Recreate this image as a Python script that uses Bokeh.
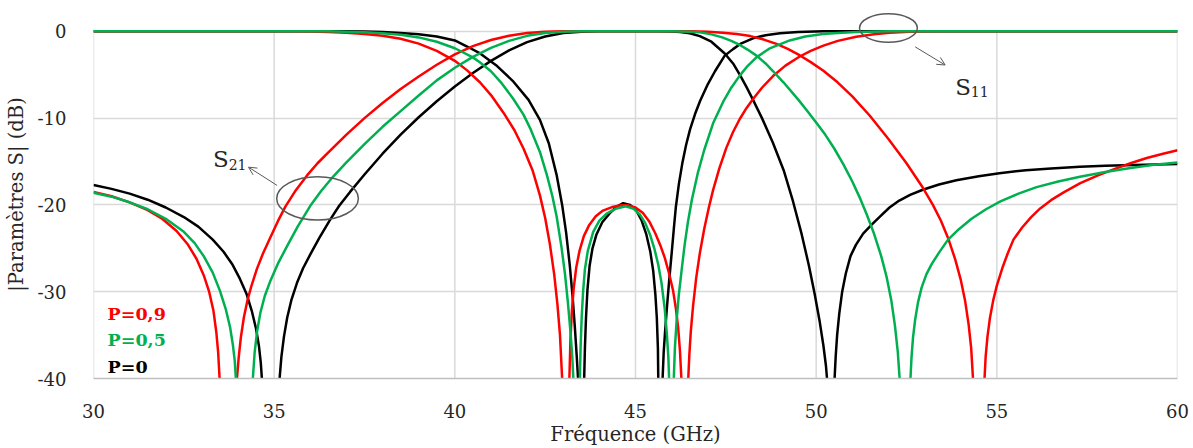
from bokeh.plotting import figure
from bokeh.models import Range1d, Label, Arrow, OpenHead, FixedTicker, CustomJSTickFormatter
from bokeh.embed import file_html
from bokeh.resources import INLINE

nan = float("nan")

# ---------------- data ----------------
x_ticks = [30, 35, 40, 45, 50, 55, 60]
y_ticks = [0, -10, -20, -30, -40]

# P=0 (black)  |S21|
s21_p0_f = [30.0, 30.5, 31.0, 31.5, 32.0, 32.5, 32.9, 33.3, 33.6, 33.85, 34.05, 34.24, 34.38, 34.5,
            34.58, 34.63, 34.66, 34.67, nan,
            35.14, 35.15, 35.2, 35.27, 35.36, 35.48, 35.63, 35.8, 36.0, 36.25, 36.55, 36.8, 37.1,
            37.5, 38.0, 38.5, 39.0, 39.5, 40.0, 40.5, 41.0, 41.5, 42.0, 42.5, 43.0, 43.5, 44.0,
            45.6, 46.0, 46.24, 46.5, 46.78, 47.1, 47.47, 47.7, 47.885, 48.07, 48.253, 48.5, 48.8,
            49.1, 49.36, 49.6, 49.8, 49.96, 50.1, 50.2, 50.27, 50.30, 50.31, nan,
            50.50, 50.51, 50.54, 50.58, 50.64, 50.72, 50.82, 50.95, 51.1, 51.3, 51.53, 51.8, 52.03,
            52.3, 52.6, 52.95, 53.4, 53.88, 54.5, 55.07, 55.8, 56.5, 57.3, 58.0, 58.8, 60.0]
s21_p0_db = [-17.7, -18.15, -18.7, -19.4, -20.3, -21.4, -22.5, -24.0, -25.4, -26.9, -28.5, -30.3,
             -32.2, -34.3, -36.3, -38.2, -40, -42, nan,
             -42, -40, -37.5, -35.2, -33.0, -30.9, -29.0, -27.3, -25.7, -23.8, -21.7, -20.1, -18.5,
             -16.5, -14.1, -11.9, -9.9, -8.05, -6.35, -4.8, -3.4, -2.2, -1.25, -0.6, -0.2, -0.04, 0,
             0, -0.02, -0.08, -0.22, -0.55, -1.2, -2.55, -3.7, -5.0, -6.4, -7.9, -10.0, -12.8,
             -16.0, -19.6, -23.4, -27.0, -30.3, -33.5, -36.2, -38.5, -40, -42, nan,
             -42, -40, -37.5, -35.0, -32.5, -30.0, -27.9, -25.9, -24.6, -23.3, -22.3, -21.2, -20.3,
             -19.5, -18.85, -18.25, -17.65, -17.15, -16.7, -16.35, -16.0, -15.8, -15.6, -15.5,
             -15.4, -15.28]
# P=0 (black)  |S11|
s11_p0_f = [30.0, 37.0, 37.5, 38.0, 38.5, 39.0, 39.5, 40.0, 40.34, 40.7, 41.17, 41.6, 42.04, 42.355,
            42.6, 42.82, 42.97, 43.08, 43.18, 43.26, 43.32, 43.37, 43.41, 43.42, nan,
            43.57, 43.58, 43.6, 43.63, 43.67, 43.73, 43.81, 43.92, 44.08, 44.29, 44.48, 44.66, 44.85,
            45.03, 45.17, 45.3, 45.41, 45.49, 45.55, 45.59, 45.62, 45.63, 45.64, nan,
            45.74, 45.75, 45.78, 45.82, 45.87, 45.93, 46.0, 46.06, 46.115, 46.2, 46.3, 46.4, 46.51,
            46.65, 46.79, 47.0, 47.2, 47.47, 47.7, 47.9, 48.25, 48.6, 49.0, 49.5, 50.2, 60.0]
s11_p0_db = [0, 0, -0.03, -0.08, -0.18, -0.33, -0.6, -1.05, -1.75, -2.55, -4.0, -5.7, -7.9, -10.2,
             -12.9, -16.6, -20.0, -23.2, -26.9, -30.6, -34.0, -37.2, -40, -42, nan,
             -42, -40, -36.5, -33.0, -29.8, -27.0, -25.0, -23.4, -22.0, -20.95, -20.2, -19.8, -20.0,
             -20.7, -21.8, -23.4, -25.4, -27.6, -30.3, -33.0, -36.5, -40, -42, nan,
             -42, -40, -37, -34.5, -31.8, -28.8, -25.6, -22.8, -20.3, -17.6, -15.1, -13.1, -11.3,
             -9.5, -8.0, -6.1, -4.6, -2.8, -2.05, -1.45, -0.8, -0.45, -0.22, -0.08, 0, 0]

# P=0,9 (red)  |S21|
s21_p9_f = [30.0, 30.5, 31.0, 31.5, 31.9, 32.3, 32.6, 32.85, 33.05, 33.2, 33.32, 33.4, 33.45, 33.49,
            33.5, nan,
            33.96, 33.97, 34.02, 34.08, 34.16, 34.26, 34.38, 34.52, 34.7, 34.9, 35.1, 35.31, 35.6,
            35.91, 36.2, 36.5, 37.0, 37.5, 38.0, 38.5, 39.0, 39.5, 40.0, 40.5, 41.0, 41.5, 42.0,
            42.5, 43.0, 46.5, 47.0, 47.42, 47.8, 48.18, 48.55, 48.9, 49.2, 49.54, 49.85, 50.2, 50.6,
            51.0, 51.48, 52.0, 52.5, 52.95, 53.23, 53.45, 53.65, 53.85, 54.0, 54.12, 54.22, 54.29,
            54.34, 54.35, nan,
            54.65, 54.66, 54.69, 54.74, 54.81, 54.9, 55.0, 55.15, 55.3, 55.46, 55.7, 55.95, 56.2,
            56.5, 56.85, 57.31, 57.8, 58.23, 58.7, 59.15, 59.6, 60.0]
s21_p9_db = [-18.5, -19.0, -19.7, -20.6, -21.6, -23.0, -24.5, -26.2, -28.1, -30.0, -32.2, -34.7,
             -37.0, -40, -42, nan,
             -42, -40, -37.5, -35.2, -33.0, -31.0, -29.2, -27.4, -25.5, -23.7, -21.9, -20.2, -18.3,
             -16.6, -15.2, -13.95, -11.9, -10.0, -8.25, -6.65, -5.2, -3.85, -2.65, -1.7, -1.0, -0.5,
             -0.2, -0.05, 0, 0, -0.05, -0.15, -0.3, -0.55, -0.95, -1.45, -2.0, -2.75, -3.55, -4.55,
             -5.9, -7.5, -9.7, -12.4, -15.2, -18.0, -20.0, -21.8, -23.8, -26.3, -28.6, -31.0, -33.8,
             -36.5, -40, -42, nan,
             -42, -40, -37.5, -35.2, -33.0, -31.0, -29.3, -27.3, -25.6, -24.0, -22.6, -21.4, -20.4,
             -19.45, -18.55, -17.5, -16.6, -15.9, -15.2, -14.6, -14.1, -13.7]
# P=0,9 (red)  |S11|
s11_p9_f = [30.0, 35.5, 36.0, 36.5, 37.0, 37.5, 38.0, 38.5, 39.0, 39.5, 40.0, 40.34, 40.7, 41.03,
            41.35, 41.65, 41.9, 42.15, 42.355, 42.5, 42.63, 42.75, 42.84, 42.91, 42.97, 42.98, nan,
            43.16, 43.17, 43.2, 43.24, 43.29, 43.36, 43.45, 43.57, 43.72, 43.9, 44.1, 44.35, 44.6,
            44.8, 45.0, 45.2, 45.38, 45.55, 45.7, 45.811, 45.93, 46.041, 46.12, 46.18, 46.23, 46.27,
            46.28, nan,
            46.45, 46.46, 46.49, 46.53, 46.594, 46.68, 46.779, 46.9, 47.03, 47.147, 47.32, 47.516,
            47.7, 47.885, 48.07, 48.253, 48.5, 48.806, 49.15, 49.544, 49.85, 50.2, 50.6, 51.11,
            51.6, 52.03, 52.585, 53.2, 60.0]
s11_p9_db = [0, 0, -0.03, -0.08, -0.17, -0.3, -0.52, -0.85, -1.42, -2.25, -3.4, -4.5, -5.9, -7.5,
             -9.4, -11.4, -13.5, -16.0, -18.9, -21.5, -24.5, -28.0, -31.5, -35.0, -40, -42, nan,
             -42, -40, -35.5, -32.2, -29.6, -27.2, -25.3, -23.6, -22.3, -21.3, -20.65, -20.25, -20.05,
             -20.05, -20.3, -20.9, -21.9, -23.3, -24.8, -26.1, -27.9, -29.9, -32.0, -34.1, -36.8, -40,
             -42, nan,
             -42, -40, -37.3, -34.6, -31.6, -28.4, -25.6, -22.8, -20.3, -18.3, -15.8, -13.4,
             -11.6, -10.1, -8.85, -7.8, -6.5, -5.15, -3.95, -2.9, -2.25, -1.65, -1.1, -0.62,
             -0.33, -0.16, -0.05, 0, 0]

# P=0,5 (green)  |S21|
s21_p5_f = [30.0, 30.5, 31.0, 31.5, 32.0, 32.5, 32.8, 33.05, 33.3, 33.5, 33.66, 33.78, 33.86, 33.91,
            33.94, 33.95, nan,
            34.40, 34.41, 34.46, 34.53, 34.62, 34.74, 34.9, 35.1, 35.35, 35.65, 36.0, 36.3, 36.64,
            37.0, 37.5, 38.0, 38.5, 39.0, 39.5, 40.0, 40.5, 41.0, 41.5, 42.0, 42.5, 43.0, 43.5,
            46.0, 46.5, 46.78, 47.1, 47.4, 47.65, 47.9, 48.1, 48.35, 48.6, 48.81, 49.1, 49.51, 49.76,
            50.0, 50.25, 50.5, 50.75, 51.0, 51.2, 51.4, 51.6, 51.8, 51.95, 52.08, 52.18, 52.26,
            52.31, 52.32, nan,
            52.60, 52.61, 52.64, 52.68, 52.74, 52.82, 52.92, 53.05, 53.2, 53.4, 53.65, 53.95, 54.3,
            54.7, 55.1, 55.6, 56.1, 56.7, 57.3, 58.0, 58.7, 59.3, 60.0]
s21_p5_db = [-18.6, -19.05, -19.7, -20.5, -21.6, -23.1, -24.4, -25.9, -27.8, -29.9, -32.0, -34.1,
             -36.2, -38.0, -40, -42, nan,
             -42, -40, -37.0, -34.5, -32.4, -30.5, -28.7, -26.8, -24.8, -22.5, -20.1, -18.4, -16.7,
             -15.1, -13.0, -11.0, -9.2, -7.4, -5.65, -4.2, -2.95, -1.9, -1.1, -0.52, -0.18, -0.04, 0,
             0, -0.05, -0.12, -0.35, -0.7, -1.1, -1.6, -2.1, -2.8, -3.7, -4.6, -5.9, -7.9, -9.2,
             -10.5, -11.9, -13.5, -15.3, -17.3, -19.1, -21.1, -23.3, -25.9, -28.3, -31.0, -33.9, -37.0,
             -40, -42, nan,
             -42, -40, -37.5, -35.3, -33.2, -31.2, -29.5, -28.0, -26.8, -25.5, -24.0, -22.8, -21.6,
             -20.5, -19.6, -18.7, -17.95, -17.3, -16.75, -16.2, -15.75, -15.4, -15.12]
# P=0,5 (green)  |S11|
s11_p5_f = [30.0, 36.5, 37.0, 37.5, 38.0, 38.5, 39.0, 39.5, 40.0, 40.5, 40.7, 41.0, 41.3, 41.62,
            41.9, 42.1, 42.355, 42.55, 42.7, 42.82, 42.95, 43.05, 43.13, 43.2, 43.25, 43.28, 43.29, nan,
            43.45, 43.46, 43.48, 43.51, 43.55, 43.6, 43.68, 43.83, 44.0, 44.2, 44.45, 44.73, 44.95,
            45.12, 45.27, 45.4, 45.52, 45.63, 45.72, 45.81, 45.87, 45.91, 45.93, 45.94, nan,
            46.05, 46.06, 46.09, 46.14, 46.2, 46.28, 46.36, 46.45, 46.56, 46.72, 46.9, 47.147,
            47.44, 47.65, 47.885, 48.1, 48.346, 48.7, 49.267, 49.7, 50.19, 50.6, 51.11, 52.0, 60.0]
s11_p5_db = [0, 0, -0.05, -0.12, -0.22, -0.4, -0.7, -1.2, -1.95, -3.0, -3.6, -4.6, -6.0, -7.8,
             -9.6, -11.3, -13.9, -16.6, -19.0, -21.4, -24.8, -28.0, -31.3, -34.6, -37.5, -40, -42, nan,
             -42, -40, -36.5, -33.0, -30.0, -27.4, -25.3, -23.1, -21.8, -21.0, -20.45, -20.15, -20.45,
             -21.1, -22.1, -23.4, -25.0, -26.9, -29.0, -32.0, -35.0, -37.6, -40, -42, nan,
             -42, -40, -36.5, -33.2, -30.3, -27.4, -24.6, -22.0, -19.4, -16.4, -13.7, -10.6,
             -8.0, -6.5, -5.1, -4.0, -3.0, -2.0, -1.05, -0.6, -0.32, -0.18, -0.08, 0, 0]

series = [
    ("black", s21_p0_f, s21_p0_db, s11_p0_f, s11_p0_db),
    ("#FF0000", s21_p9_f, s21_p9_db, s11_p9_f, s11_p9_db),
    ("#00B050", s21_p5_f, s21_p5_db, s11_p5_f, s11_p5_db),
]

legend_labels = ["P=0,9", "P=0,5", "P=0"]
legend_colors = ["#FF0000", "#00B050", "black"]

# ---------------- figure ----------------
FONT = "DejaVu Serif"
TXT = "#262626"
p = figure(width=1193, height=448, output_backend="svg", toolbar_location=None,
           x_range=Range1d(30, 60), y_range=Range1d(-40, 2.4),
           min_border_left=93, min_border_right=16, min_border_top=10, min_border_bottom=66)
p.outline_line_color = None
p.background_fill_color = "white"

# grid
p.xgrid.visible = False
p.ygrid.ticker = FixedTicker(ticks=y_ticks)
p.ygrid.grid_line_color = "#D9D9D9"
p.ygrid.grid_line_width = 1.5
p.segment(x0=x_ticks, y0=[min(y_ticks)] * len(x_ticks), x1=x_ticks, y1=[max(y_ticks)] * len(x_ticks),
          line_color="#D9D9D9", line_width=1.5)

# axes
p.xaxis.ticker = FixedTicker(ticks=x_ticks)
p.yaxis.ticker = FixedTicker(ticks=y_ticks)
p.yaxis.formatter = CustomJSTickFormatter(code="return String(tick);")
for ax in (p.xaxis[0], p.yaxis[0]):
    ax.major_tick_line_color = None
    ax.minor_tick_line_color = None
    ax.major_label_text_font = FONT
    ax.major_label_text_font_size = "18px"
    ax.major_label_text_color = TXT
    ax.axis_label_text_font = FONT
    ax.axis_label_text_font_size = "19.5px"
    ax.axis_label_text_font_style = "normal"
    ax.axis_label_text_color = TXT
p.xaxis.axis_line_color = "#BFBFBF"
p.xaxis.axis_line_width = 1.5
p.yaxis.axis_line_color = None
p.xaxis.major_label_standoff = 19
p.xaxis.axis_label_standoff = 2
p.yaxis.major_label_standoff = 21
p.yaxis.axis_label_standoff = 7
p.xaxis.axis_label = "Fréquence (GHz)"
p.yaxis.axis_label = "|Paramètres S| (dB)"

# curves
for color, f21, d21, f11, d11 in series:
    p.line(f21, d21, line_color=color, line_width=2.5, line_join="round")
    p.line(f11, d11, line_color=color, line_width=2.5, line_join="round")

# annotations
GRAY = "#595959"
p.ellipse(x=[36.2], y=[-19.25], width=[2.26], height=[5.0], fill_color=None,
          line_color=GRAY, line_width=1.5)
p.ellipse(x=[52.0], y=[0.38], width=[1.6], height=[3.27], fill_color=None,
          line_color=GRAY, line_width=1.5)
p.add_layout(Arrow(x_start=35.08, y_start=-17.75, x_end=34.29, y_end=-15.65, line_color=GRAY,
                   line_width=1, end=OpenHead(size=8, line_color=GRAY, line_width=1)))
p.add_layout(Arrow(x_start=52.74, y_start=-1.79, x_end=53.57, y_end=-3.88, line_color=GRAY,
                   line_width=1, end=OpenHead(size=8, line_color=GRAY, line_width=1)))

def s_label(x, y, sub):
    p.add_layout(Label(x=x, y=y, text="S", text_font=FONT, text_font_size="23px",
                       text_color=TXT, text_baseline="alphabetic"))
    p.add_layout(Label(x=x + 0.43, y=y - 0.6, text=sub, text_font=FONT, text_font_size="14px",
                       text_color=TXT, text_baseline="alphabetic"))

s_label(33.31, -14.71, "21")
s_label(53.85, -6.39, "11")

for i, (t, c) in enumerate(zip(legend_labels, legend_colors)):
    p.add_layout(Label(x=30.39, y=-32.58 - 3.03 * i, text=t, text_font=FONT,
                       text_font_size="17.5px", text_font_style="bold", text_color=c,
                       text_baseline="alphabetic"))

open("out.html", "w").write(file_html(p, INLINE))
